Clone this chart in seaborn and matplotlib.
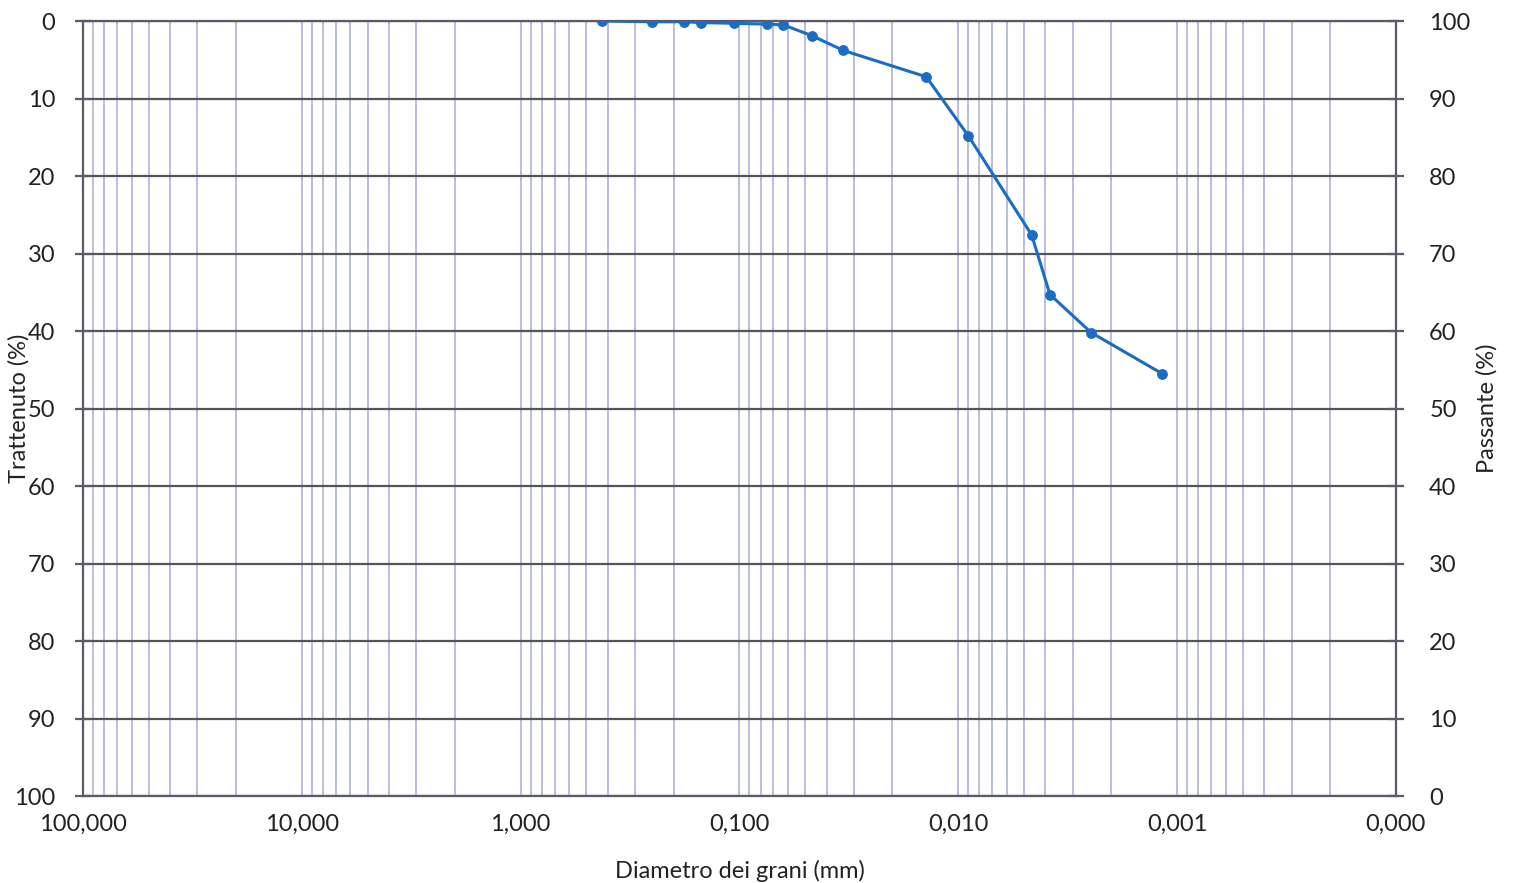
import matplotlib
matplotlib.use("Agg")
import matplotlib.pyplot as plt
import matplotlib.ticker as mticker
import numpy as np
import pandas as pd
import seaborn as sns

# curva granulometrica
diametro_mm = [0.425, 0.25, 0.18, 0.15, 0.106, 0.075, 0.063,
               0.0466, 0.0335, 0.0140, 0.0090, 0.00462, 0.00381, 0.00247, 0.00117]
trattenuto = [0.0, 0.1, 0.1, 0.2, 0.3, 0.4, 0.5,
              1.9, 3.8, 7.2, 14.8, 27.6, 35.3, 40.2, 45.5]
x_ticks = [100, 10, 1, 0.1, 0.01, 0.001, 0.0001]
y_ticks = [0, 10, 20, 30, 40, 50, 60, 70, 80, 90, 100]

df = pd.DataFrame({"diametro": diametro_mm, "trattenuto": trattenuto})

sns.set_style("white")
plt.rcParams["font.family"] = ["Lato", "DejaVu Sans"]

fig = plt.figure(figsize=(15.14, 8.83), dpi=100)
ax = fig.add_axes([0.0548, 0.0985, 0.8672, 0.8777])

sns.lineplot(data=df, x="diametro", y="trattenuto", ax=ax, sort=False,
             color="#1a6cc4", linewidth=2.2, marker="o", markersize=7,
             markeredgecolor="#1a6cc4", zorder=5)

ax.set_xscale("log")
ax.set_xlim(100, 0.0001)
ax.set_ylim(100, 0)
ax.xaxis.set_major_locator(mticker.FixedLocator(x_ticks))
ax.xaxis.set_minor_locator(mticker.LogLocator(base=10, subs=np.arange(2, 10), numticks=20))
ax.xaxis.set_major_formatter(mticker.FuncFormatter(lambda v, p: f"{v:.3f}".replace(".", ",")))
ax.xaxis.set_minor_formatter(mticker.NullFormatter())
ax.set_yticks(y_ticks)

ax.grid(which="major", axis="y", color="#555555", linewidth=1.6)
ax.grid(which="both", axis="x", color="#aeb1d8", linewidth=1.2)
ax.set_axisbelow(True)

for s in ax.spines.values():
    s.set_color("#5a5a6a")
    s.set_linewidth(1.6)

ax.tick_params(axis="x", which="major", direction="inout", length=12, width=1.6,
               color="#5a5a6a", labelsize=17, pad=7, labelcolor="#222222")
ax.tick_params(axis="x", which="minor", length=0)
ax.tick_params(axis="y", direction="inout", length=12, width=1.6, color="#5a5a6a",
               labelsize=17, pad=14, labelcolor="#222222", left=True)

ax.set_xlabel("Diametro dei grani (mm)", fontsize=17, color="#222222", labelpad=18)
ax.set_ylabel("Trattenuto (%)", fontsize=17, color="#222222", labelpad=-11)

ax2 = ax.twinx()
ax2.set_ylim(0, 100)
ax2.set_yticks(y_ticks)
ax2.tick_params(axis="y", direction="inout", length=12, width=1.6, color="#5a5a6a",
                labelsize=17, pad=18, labelcolor="#222222", right=True)
for s in ax2.spines.values():
    s.set_visible(False)
ax2.set_ylabel("Passante (%)", fontsize=17, color="#222222", labelpad=4)

fig.savefig("out.png", dpi=100)
